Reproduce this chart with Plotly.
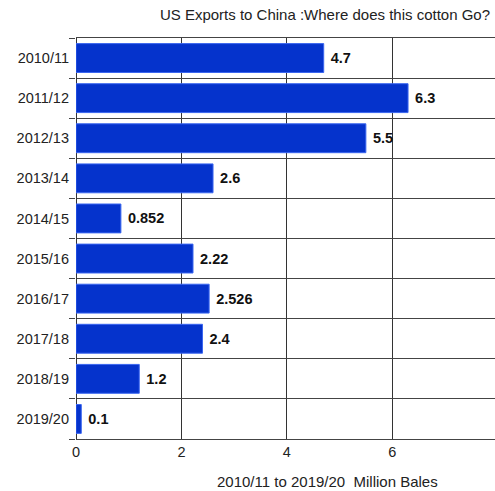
import plotly.graph_objects as go

seasons = ["2010/11", "2011/12", "2012/13", "2013/14", "2014/15",
           "2015/16", "2016/17", "2017/18", "2018/19", "2019/20"]
exports = [4.7, 6.3, 5.5, 2.6, 0.852, 2.22, 2.526, 2.4, 1.2, 0.1]
labels = ["4.7", "6.3", "5.5", "2.6", "0.852", "2.22", "2.526", "2.4", "1.2", "0.1"]

pos = list(range(len(seasons)))
bounds = [i - 0.5 for i in range(len(seasons) + 1)]
yrange = [bounds[-1], bounds[0]]

FONT = "Liberation Sans, Arial"

fig = go.Figure()
fig.add_trace(go.Bar(
    y=pos, x=exports, orientation="h",
    text=labels, textposition="outside", cliponaxis=False,
    textfont=dict(family=FONT, size=14.5, color="#111111"),
    texttemplate=" <b>%{text}</b>",
    marker=dict(color="#0533CC", line=dict(color="#3a66f0", width=1)),
    width=0.72, hoverinfo="x+y",
))
fig.add_trace(go.Scatter(x=[None], y=[None], yaxis="y2", mode="markers",
                         showlegend=False, hoverinfo="skip"))

fig.update_layout(
    width=495, height=491,
    margin=dict(l=76, r=0, t=38, b=52),
    plot_bgcolor="white", paper_bgcolor="white",
    showlegend=False,
    font=dict(family=FONT, size=14.5, color="#222222"),
    title=dict(text="US Exports to China :Where does this cotton Go?",
               x=0.99, xanchor="right", y=0.97, yanchor="middle",
               font=dict(size=15, color="#222222")),
    xaxis=dict(range=[0, 7.95], dtick=2, tick0=0, showgrid=True,
               gridcolor="#333333", gridwidth=1,
               zeroline=True, zerolinecolor="#333333", zerolinewidth=1,
               showline=True, mirror=True, linecolor="#444444", linewidth=1,
               ticks="", tickfont=dict(size=14.5)),
    yaxis=dict(range=yrange, tickmode="array", tickvals=bounds,
               ticktext=[" "] * len(bounds), showgrid=True,
               gridcolor="#444444", gridwidth=1,
               ticks="outside", ticklen=6, tickcolor="#444444",
               zeroline=False, showline=False),
    yaxis2=dict(overlaying="y", side="left", range=yrange, tickmode="array",
                tickvals=pos, ticktext=seasons, showgrid=False, ticks="",
                zeroline=False, showline=False, ticklabelstandoff=6,
                tickfont=dict(size=14.5)),
    bargap=0.28,
)

fig.add_annotation(text="2010/11 to 2019/20  Million Bales",
                   xref="paper", yref="paper", x=(327 - 76) / 419, y=0,
                   yshift=-42, showarrow=False, xanchor="center", yanchor="middle",
                   font=dict(size=15, color="#222222"))

fig.write_html("out.html")
